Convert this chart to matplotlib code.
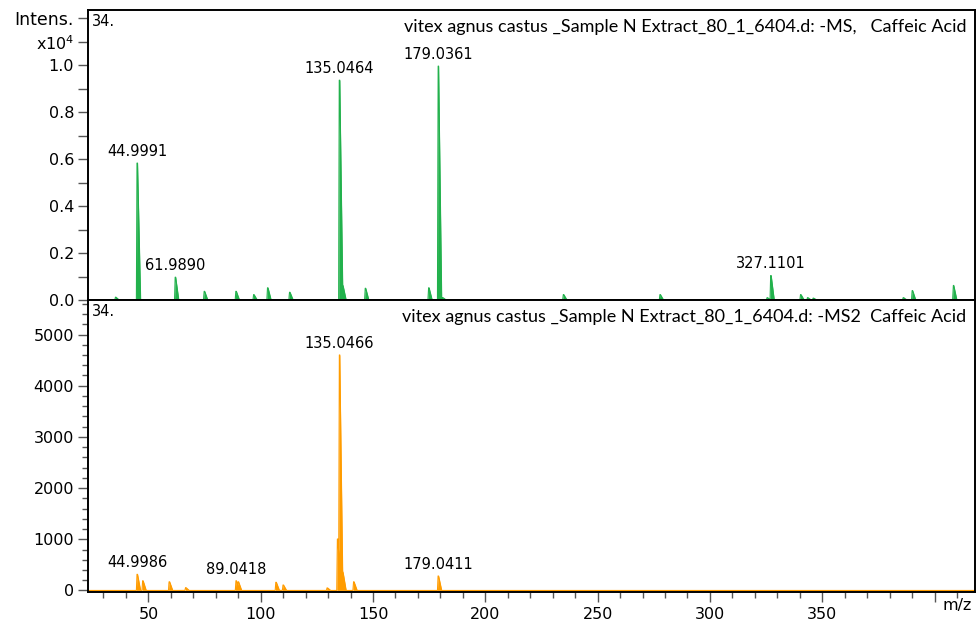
import numpy as np
import matplotlib
matplotlib.use('Agg')
import matplotlib.pyplot as plt
from matplotlib.ticker import MultipleLocator

plt.rcParams['font.family'] = 'DejaVu Sans'

# MS scan (intensity in units of 1e4)
ms_mz = [35.4, 44.9991, 61.9890, 74.9, 89.0, 96.9, 103.1, 112.9, 135.0464, 136.5,
         146.6, 174.8, 179.0361, 181.0, 234.8, 277.8, 325.5, 327.1101, 340.4, 343.5,
         346.0, 386.1, 390.1, 408.4]
ms_int = [0.012, 0.583, 0.097, 0.037, 0.037, 0.023, 0.052, 0.033, 0.936, 0.062,
          0.050, 0.052, 0.996, 0.010, 0.023, 0.023, 0.010, 0.104, 0.023, 0.010,
          0.008, 0.010, 0.040, 0.062]
ms_labels = [44.9991, 61.9890, 135.0464, 179.0361, 327.1101]

# MS2 scan
ms2_mz = [44.9986, 47.5, 59.3, 66.6, 89.0418, 90.0, 106.8, 110.0, 129.6, 134.2,
          135.0466, 136.5, 141.4, 179.0411]
ms2_int = [316, 190, 170, 55, 190, 170, 160, 107, 50, 1005,
           4600, 360, 170, 283]
ms2_labels = [44.9986, 89.0418, 135.0466, 179.0411]

header_ms = 'vitex agnus castus _Sample N Extract_80_1_6404.d: -MS,   Caffeic Acid'
header_ms2 = 'vitex agnus castus _Sample N Extract_80_1_6404.d: -MS2  Caffeic Acid'

xmin, xmax = 23.1, 418.0
green = '#22b14c'
orange = '#ff9c00'


def profile(x, mz, inten):
    # sharp rise, short tail on the high-mass side
    y = np.zeros_like(x)
    for m, h in zip(mz, inten):
        px = [m - 0.35, m - 0.12, m + 0.15, m + 1.5]
        py = [0, h, h, 0]
        y = np.maximum(y, np.interp(x, px, py, left=0, right=0))
    return y


def draw_panel(ax, mz, inten, labels, color, header):
    x = np.linspace(xmin, xmax, 40000)
    y = profile(x, mz, inten)
    ax.fill_between(x, 0, y, color=color, lw=0)
    ax.plot(x, y, color=color, lw=0.8)
    for m in labels:
        h = inten[mz.index(m)]
        ax.annotate('{:.4f}'.format(m), (m, h), xytext=(0, 3), textcoords='offset points',
                    ha='center', va='bottom', fontsize=10.5)
    ax.set_xlim(xmin, xmax)
    for s in ax.spines.values():
        s.set_linewidth(1.4)
    ax.tick_params(axis='y', direction='out', length=7, width=1, color='#555555',
                   labelsize=11.5, pad=3)
    ax.text(0.004, 0.985, '34.', transform=ax.transAxes, ha='left', va='top', fontsize=10.5)
    ax.text(0.99, 0.968, header, transform=ax.transAxes, ha='right', va='top',
            fontsize=13, family='Lato')


fig = plt.figure(figsize=(9.77, 6.21), dpi=100)
W, H = 977, 621
left, right = 88 / W, 975 / W

ax1 = fig.add_axes([left, 1 - 300 / H, right - left, 290 / H])
ax2 = fig.add_axes([left, 1 - 592 / H, right - left, 292 / H])

draw_panel(ax1, ms_mz, ms_int, ms_labels, green, header_ms)
ax1.set_ylim(0, 1.235)
ax1.set_yticks(np.arange(0, 1.25, 0.1))
ax1.set_yticklabels(['0.0', '', '0.2', '', '0.4', '', '0.6', '', '0.8', '', '1.0',
                     'x10$^4$', 'Intens.'])
ax1.get_yticklabels()[-1].set_fontsize(12.5)
ax1.set_xticks([])

draw_panel(ax2, ms2_mz, ms2_int, ms2_labels, orange, header_ms2)
ax2.set_ylim(-30, 5674)
ax2.yaxis.set_major_locator(MultipleLocator(1000))
ax2.yaxis.set_minor_locator(MultipleLocator(200))
ax2.tick_params(axis='y', which='minor', direction='out', length=4, width=1, color='#555555')
ax2.xaxis.set_minor_locator(MultipleLocator(10))
ax2.tick_params(axis='x', which='major', direction='out', length=7, width=1,
                color='#555555', labelsize=11.5)
ax2.tick_params(axis='x', which='minor', direction='out', length=4, width=1, color='#555555')
ax2.set_xticks(np.arange(50, 401, 50))
ax2.set_xticklabels(['50', '100', '150', '200', '250', '300', '350', ''])
ax2.text(410, -290, 'm/z', ha='center', va='center', fontsize=11.5)

fig.savefig('out.png', dpi=100)
